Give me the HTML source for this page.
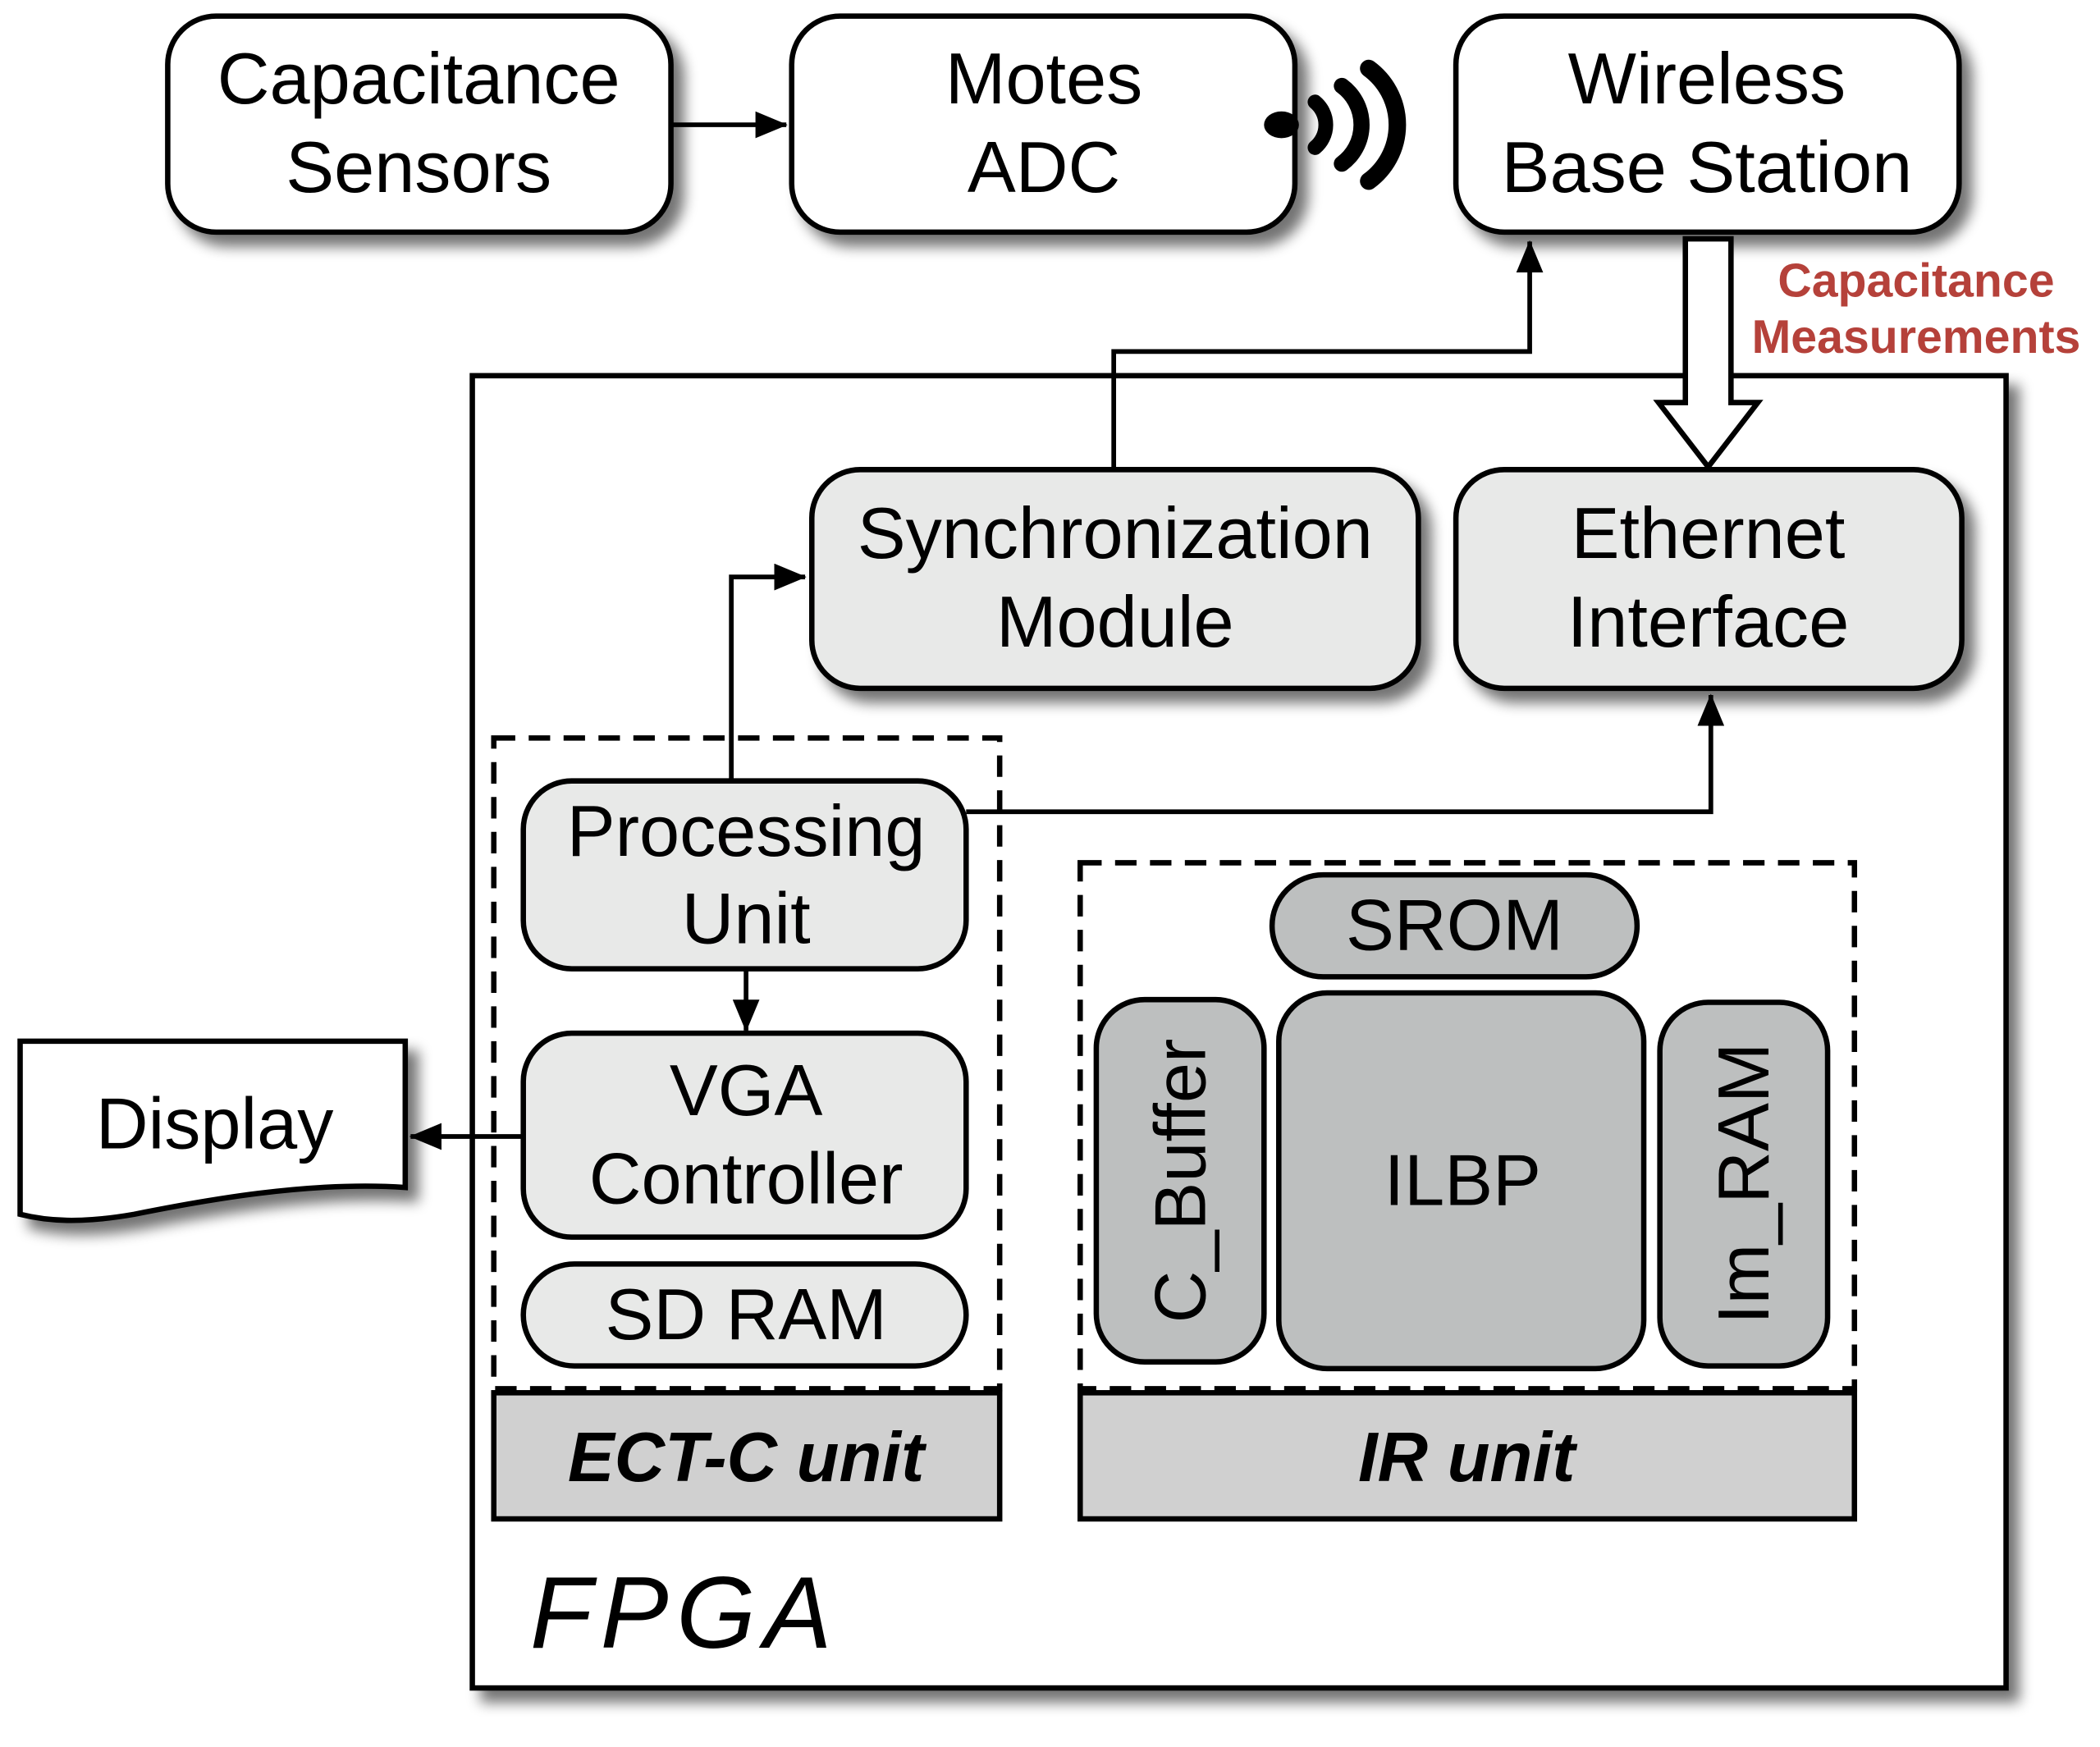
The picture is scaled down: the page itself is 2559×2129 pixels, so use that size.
<!DOCTYPE html>
<html><head><meta charset="utf-8"><style>
html,body{margin:0;padding:0;background:#fff;}
svg{display:block;}
text{font-family:"Liberation Sans",sans-serif;}
</style></head><body>
<svg width="2559" height="2129" viewBox="0 0 1565 1302" preserveAspectRatio="none" xmlns="http://www.w3.org/2000/svg">
<defs>
<filter id="sh" x="-10%" y="-10%" width="130%" height="130%">
<feGaussianBlur in="SourceAlpha" stdDeviation="5"/>
<feOffset dx="8" dy="9" result="b"/>
<feComponentTransfer><feFuncA type="linear" slope="0.55"/></feComponentTransfer>
<feMerge><feMergeNode/><feMergeNode in="SourceGraphic"/></feMerge>
</filter>
<marker id="ah2" markerWidth="24" markerHeight="20" refX="23" refY="10" orient="auto" markerUnits="userSpaceOnUse">
<path d="M0,0 L24,10 L0,20 z" fill="#000"/>
</marker>
</defs>

<rect x="352" y="280" width="1143" height="978" fill="#fff" stroke="#000" stroke-width="4" filter="url(#sh)"/>

<g stroke="#000" stroke-width="4" fill="#fff" filter="url(#sh)">
<rect x="125" y="12" width="375" height="161" rx="36"/>
<rect x="590" y="12" width="375" height="161" rx="36"/>
<rect x="1085" y="12" width="375" height="161" rx="36"/>
</g>
<g font-size="54" text-anchor="middle" fill="#000">
<text x="312" y="77">Capacitance</text><text x="312" y="143">Sensors</text>
<text x="778" y="77">Motes</text><text x="778" y="143">ADC</text>
<text x="1272" y="77">Wireless</text><text x="1272" y="143">Base Station</text>
</g>
<line x1="500" y1="93" x2="586" y2="93" stroke="#000" stroke-width="3.5" marker-end="url(#ah2)"/>

<ellipse cx="955" cy="93" rx="13" ry="10" fill="#000"/>
<g fill="none" stroke="#000" stroke-linecap="round">
<path d="M980,76 A22,22 0 0 1 980,110" stroke-width="11"/>
<path d="M1000,64 A36,36 0 0 1 1000,122" stroke-width="12"/>
<path d="M1020,51 A52,52 0 0 1 1020,135" stroke-width="13"/>
</g>

<polyline points="830,350 830,262 1140,262 1140,180" fill="none" stroke="#000" stroke-width="3.5" marker-end="url(#ah2)"/>

<path d="M1256,178 L1290,178 L1290,300 L1310,300 L1273,348 L1236,300 L1256,300 Z" fill="#fff" stroke="#000" stroke-width="4"/>
<g font-size="35" font-weight="bold" fill="#b5413a" text-anchor="middle">
<text x="1428" y="221">Capacitance</text><text x="1428" y="263">Measurements</text>
</g>

<g stroke="#000" stroke-width="4" fill="#e8e9e8" filter="url(#sh)">
<rect x="605" y="350" width="452" height="163" rx="36"/>
<rect x="1085" y="350" width="377" height="163" rx="36"/>
</g>
<g font-size="54" text-anchor="middle" fill="#000">
<text x="831" y="416">Synchronization</text><text x="831" y="482">Module</text>
<text x="1273" y="416">Ethernet</text><text x="1273" y="482">Interface</text>
</g>

<g fill="none" stroke="#000" stroke-width="4" stroke-dasharray="16,10">
<rect x="368" y="550" width="377" height="485"/>
<rect x="805" y="643" width="577" height="392"/>
</g>
<g fill="#d0d0d0" stroke="#000" stroke-width="4">
<rect x="368" y="1038" width="377" height="94"/>
<rect x="805" y="1038" width="577" height="94"/>
</g>
<g font-size="52" font-weight="bold" font-style="italic" text-anchor="middle" fill="#000">
<text x="556" y="1104">ECT-C unit</text>
<text x="1093" y="1104">IR unit</text>
</g>

<polyline points="545,582 545,430 600,430" fill="none" stroke="#000" stroke-width="3.5" marker-end="url(#ah2)"/>
<polyline points="720,605 1275,605 1275,518" fill="none" stroke="#000" stroke-width="3.5" marker-end="url(#ah2)"/>
<line x1="556" y1="722" x2="556" y2="768" stroke="#000" stroke-width="3.5" marker-end="url(#ah2)"/>
<line x1="390" y1="847" x2="306" y2="847" stroke="#000" stroke-width="3.5" marker-end="url(#ah2)"/>

<g stroke="#000" stroke-width="4" fill="#e8e9e8">
<rect x="390" y="582" width="330" height="140" rx="36"/>
<rect x="390" y="770" width="330" height="152" rx="36"/>
<rect x="390" y="942" width="330" height="76" rx="38"/>
</g>
<g font-size="54" text-anchor="middle" fill="#000">
<text x="556" y="638">Processing</text><text x="556" y="703">Unit</text>
<text x="556" y="831">VGA</text><text x="556" y="897">Controller</text>
<text x="556" y="998">SD RAM</text>
</g>

<g stroke="#000" stroke-width="4" fill="#bdbfbf">
<rect x="948" y="652" width="272" height="76" rx="38"/>
<rect x="817" y="745" width="125" height="270" rx="36"/>
<rect x="953" y="740" width="272" height="280" rx="36"/>
<rect x="1237" y="747" width="125" height="271" rx="36"/>
</g>
<g font-size="54" text-anchor="middle" fill="#000">
<text x="1084" y="708">SROM</text>
<text x="1090" y="898">ILBP</text>
<text transform="translate(898,880) rotate(-90)">C_Buffer</text>
<text transform="translate(1318,882) rotate(-90)">Im_RAM</text>
</g>

<path d="M15,776 L302,776 L302,885 C230,880 150,895 100,905 C60,912 35,910 15,905 Z" fill="#fff" stroke="#000" stroke-width="4" filter="url(#sh)"/>
<text x="160" y="856" font-size="54" text-anchor="middle" fill="#000">Display</text>

<text x="395" y="1228" font-size="76" font-family="DejaVu Serif,serif" font-style="italic" fill="#000" letter-spacing="6">FPGA</text>
</svg>
</body></html>
